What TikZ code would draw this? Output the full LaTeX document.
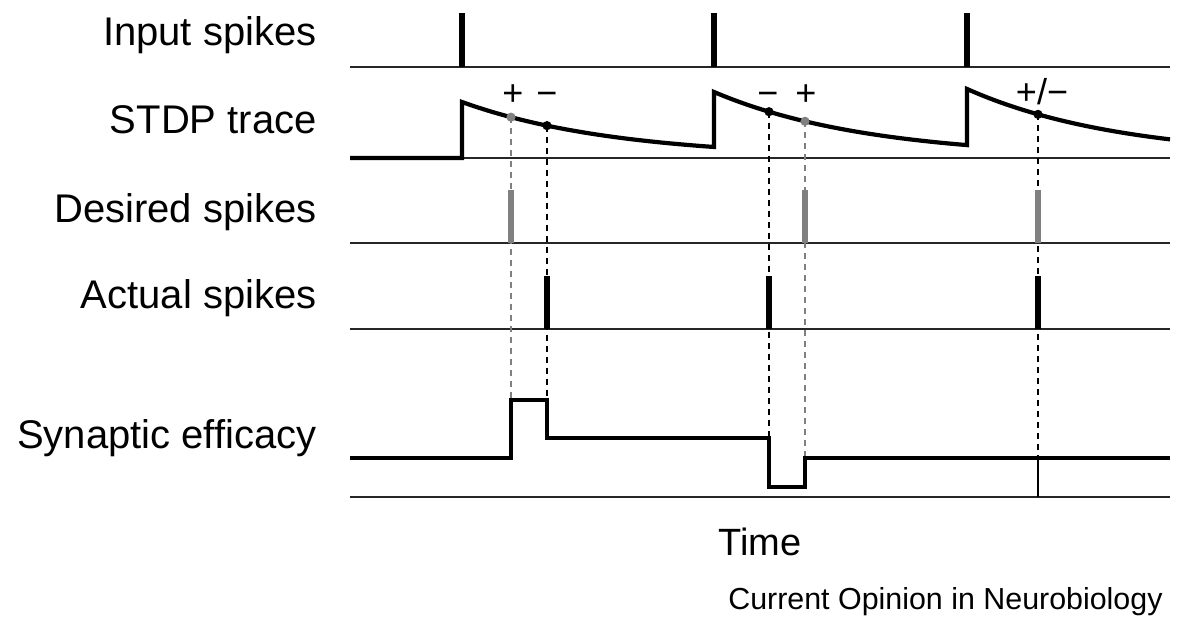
\documentclass[tikz,border=0pt]{standalone}
\usepackage{fontspec}
\setmainfont{Liberation Sans}

\begin{document}
\begin{tikzpicture}[
        x=0.5pt, y=-0.5pt,
        rowlabel/.style={anchor=base east, inner sep=0pt, font=\fontsize{20}{24}\selectfont},
        sign/.style={anchor=base, inner sep=0pt, font=\fontsize{18}{20}\selectfont},
        axis/.style={line width=1pt, black!85},
        spike/.style={line width=2.9pt},
        trace/.style={line width=2.1pt},
        guide/.style={dash pattern=on 3pt off 2.5pt, line width=1.1pt}
    ]

        \useasboundingbox (0,0) rectangle (1177,621);

        \node[rowlabel] (input) at (317,45) {Input spikes};
        \node[rowlabel] (stdp) at (317,133) {STDP trace};
        \node[rowlabel] (desired) at (317,222) {Desired spikes};
        \node[rowlabel] (actual) at (317,308) {Actual spikes};
        \node[rowlabel] (efficacy) at (317,448) {Synaptic efficacy};
        \node[anchor=base, inner sep=0pt, font=\fontsize{19}{22}\selectfont] (time) at (760,555) {Time};
        \node[anchor=base east, inner sep=0pt, font=\fontsize{15.2}{18}\selectfont] (credit) at (1163,609) {Current Opinion in Neurobiology};

        \draw[axis] (350,67) -- (1170,67);
        \draw[axis] (462,158) -- (1170,158);
        \draw[axis] (350,243) -- (1170,243);
        \draw[axis] (350,329) -- (1170,329);
        \draw[axis] (350,497) -- (1170,497);

        \coordinate (p1) at (511,{158-56*exp(-49/155)});
        \coordinate (p2) at (547,{158-56*exp(-85/155)});
        \coordinate (p3) at (769,{158-66*exp(-55/155)});
        \coordinate (p4) at (805,{158-66*exp(-91/155)});
        \coordinate (p5) at (1038,{158-69*exp(-71/155)});

        \coordinate (e1) at (511,400);
        \coordinate (e2) at (547,438);
        \coordinate (e3) at (769,438);
        \coordinate (e4) at (805,458);
        \coordinate (e5) at (1038,458);

        \draw[guide, black!50] (p1) -- (e1);
        \draw[guide] (p2) -- (e2);
        \draw[guide] (p3) -- (e3);
        \draw[guide, black!50] (p4) -- (e4);
        \draw[guide] (p5) -- (e5);

        \foreach \t in {462,714,967}
            \draw[spike] (\t,67) -- (\t,13);
        \foreach \t in {511,805,1038}
            \draw[spike, black!50] (\t,243) -- (\t,190);
        \foreach \t in {547,769,1038}
            \draw[spike] (\t,329) -- (\t,276);

        \draw[trace] (350,158) -- (462,158)
            -- plot[domain=462:714, samples=40] (\x,{158-56*exp(-(\x-462)/155)})
            -- plot[domain=714:967, samples=40] (\x,{158-66*exp(-(\x-714)/155)})
            -- plot[domain=967:1170, samples=30] (\x,{158-69*exp(-(\x-967)/155)});

        \fill[black!50] (p1) circle (2.3pt);
        \fill (p2) circle (2.3pt);
        \fill (p3) circle (2.3pt);
        \fill[black!50] (p4) circle (2.3pt);
        \fill (p5) circle (2.3pt);

        \node[sign] (s1) at (513,105) {+};
        \node[sign] (s2) at (547,105) {−};
        \node[sign] (s3) at (768,105) {−};
        \node[sign] (s4) at (806,105) {+};
        \node[sign] (s5) at (1042,104) {+/−};

        \draw[trace] (350,458) -| (e1) -- (547,400) -- (e2) -- (e3)
            -- (769,487) -- (805,487) -- (e4) -- (1170,458);
        \draw[line width=0.6pt] (e5) -- (1038,497);

    \end{tikzpicture}
\end{document}
